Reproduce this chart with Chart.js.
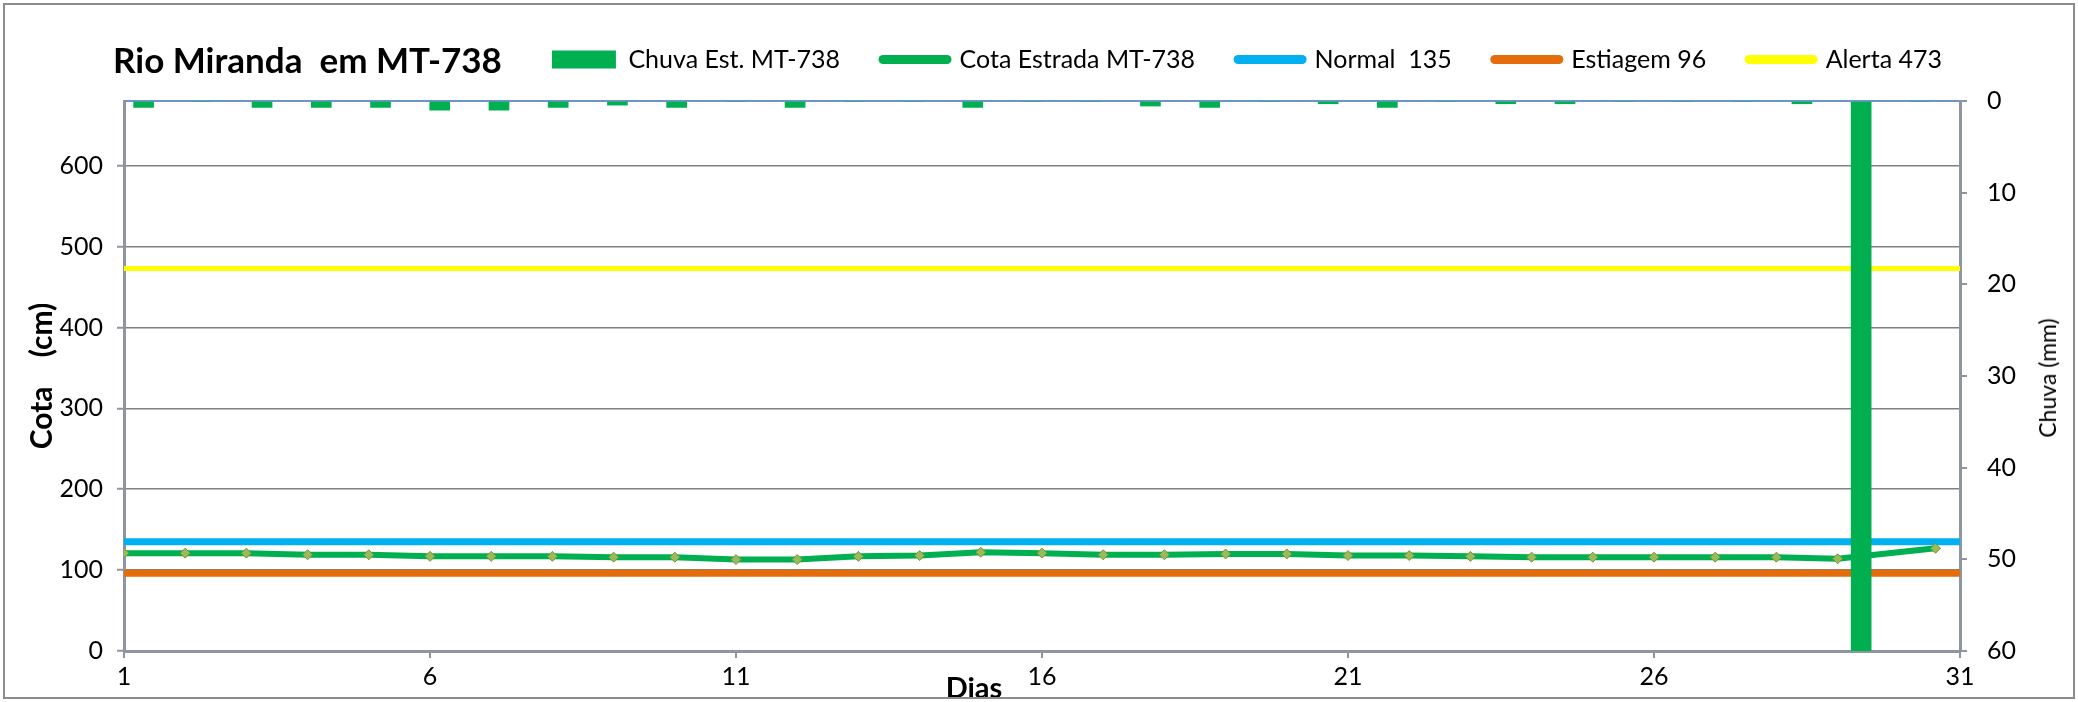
<!DOCTYPE html>
<html>
<head>
<meta charset="utf-8">
<script src="https://cdn.jsdelivr.net/npm/chart.js@4.4.1/dist/chart.umd.min.js"></script>
<style>
  html, body { margin: 0; padding: 0; background: #fff; }
  #wrap { position: relative; width: 2078px; height: 702px; overflow: hidden; }
  #frame { position: absolute; left: 3px; top: 3px; right: 3px; bottom: 3px; border: 2px solid #8c8c8c; pointer-events: none; }
  .txt { position: absolute; white-space: nowrap; color: #000; font-family: 'Liberation Sans Narrow', Lato, sans-serif; }
  #title { left: 113px; top: 38px; font-size: 35px; font-weight: bold; }
  #rtitle { left: 2047px; top: 378px; font-size: 23px; transform: translate(-50%, -50%) rotate(-90deg); }
  #xtitle { left: 974px; top: 686px; font-size: 29px; font-weight: bold; transform: translate(-50%, -50%); }
</style>
</head>
<body>
<div id="wrap">
  <canvas id="chart" width="2078" height="702"></canvas>
  <div class="txt" id="title">Rio Miranda&nbsp; em MT-738</div>
  <div class="txt" id="rtitle">Chuva (mm)</div>
  <div class="txt" id="xtitle">Dias</div>
  <div id="frame"></div>
</div>
<script>
// ---------------- Data ----------------
const days = [1, 2, 3, 4, 5, 6, 7, 8, 9, 10, 11, 12, 13, 14, 15, 16, 17, 18, 19, 20, 21, 22, 23, 24, 25, 26, 27, 28, 29, 30, 31];
const chuva = [0.7, 0, 0.7, 0.7, 0.7, 1.0, 1.0, 0.7, 0.45, 0.7, 0, 0.7, 0, 0, 0.7, 0, 0, 0.55, 0.7, 0, 0.3, 0.7, 0, 0.3, 0.3, 0, 0, 0, 0.3, 60, 0];
// reading times (day of month) and river level
const cotaDia = [1, 2, 3, 4, 5, 6, 7, 8, 9, 10, 11, 12, 13, 14, 15, 16, 17, 18, 19, 20, 21, 22, 23, 24, 25, 26, 27, 28, 29, 30.6];
const cota = [121, 121, 121, 119, 119, 117, 117, 117, 116, 116, 113, 113, 117, 118, 122, 121, 119, 119, 120, 120, 118, 118, 117, 116, 116, 116, 116, 116, 114, 127];
const normal = 135;
const estiagem = 96;
const alerta = 473;
const xTicks = [1, 6, 11, 16, 21, 26, 31];

const FONT = "'Liberation Sans Narrow', Lato, sans-serif";
const green = '#00b050';
const axisGray = '#8d96a0';

// constant level lines across the month
function level(v) {
    return [{x: days[0], y: v}, {x: days[days.length - 1], y: v}];
}

// legend: fixed height, right end pinned where the reference has it
const legendFit = {
    id: 'legendFit',
    beforeInit(chart) {
        const fit = chart.legend.fit;
        chart.legend.fit = function() {
            fit.bind(chart.legend)();
            this.height = 97;
        };
    },
    afterLayout(chart) {
        chart.legend.right = 1942 + chart.legend.options.labels.padding;
    }
};

const ctx = document.getElementById('chart');
const chart = new Chart(ctx, {
    data: {
        labels: days,
        datasets: [{
            type: 'bar',
            label: 'Chuva Est. MT-738',
            data: chuva,
            xAxisID: 'xBar',
            yAxisID: 'yR',
            backgroundColor: green,
            barThickness: 20,
            order: 0
        }, {
            type: 'line',
            label: 'Cota Estrada MT-738',
            data: cota.map((v, i) => ({x: cotaDia[i], y: v})),
            xAxisID: 'x',
            yAxisID: 'y',
            borderColor: green,
            borderWidth: 6,
            pointStyle: 'rectRot',
            pointRadius: 5,
            pointBackgroundColor: '#9bbb59',
            pointBorderColor: '#77933c',
            pointBorderWidth: 1,
            tension: 0,
            order: 1
        }, {
            type: 'line',
            label: 'Normal  135',
            data: level(normal),
            xAxisID: 'x',
            yAxisID: 'y',
            borderColor: '#00b0f0',
            borderWidth: 7,
            pointRadius: 0,
            order: 2
        }, {
            type: 'line',
            label: 'Estiagem 96',
            data: level(estiagem),
            xAxisID: 'x',
            yAxisID: 'y',
            borderColor: '#e46c0a',
            borderWidth: 7,
            pointRadius: 0,
            order: 3
        }, {
            type: 'line',
            label: 'Alerta 473',
            data: level(alerta),
            xAxisID: 'x',
            yAxisID: 'y',
            borderColor: '#ffff00',
            borderWidth: 5,
            pointRadius: 0,
            order: 4
        }]
    },
    options: {
        responsive: false,
        animation: false,
        layout: {padding: {top: 4, left: 0, right: 0, bottom: 0}},
        plugins: {
            tooltip: {enabled: false},
            legend: {
                position: 'top',
                align: 'end',
                fullSize: false,
                labels: {
                    color: '#000',
                    font: {family: FONT, size: 25},
                    padding: 43,
                    usePointStyle: true,
                    pointStyleWidth: 64,
                    boxHeight: 18,
                    sort: (a, b) => a.datasetIndex - b.datasetIndex,
                    generateLabels(chart) {
                        return chart.data.datasets.map((ds, i) => ({
                            text: ds.label,
                            datasetIndex: i,
                            fillStyle: ds.type === 'bar' ? ds.backgroundColor : ds.borderColor,
                            strokeStyle: ds.type === 'bar' ? ds.backgroundColor : ds.borderColor,
                            lineWidth: ds.type === 'bar' ? 0 : 9,
                            lineCap: 'round',
                            pointStyle: ds.type === 'bar' ? 'rect' : 'line',
                            fontColor: '#000'
                        }));
                    }
                }
            }
        },
        scales: {
            xBar: {
                type: 'category',
                position: 'top',
                offset: true,
                grid: {display: false},
                ticks: {display: false},
                border: {color: '#6f95c8', width: 2},
                afterFit: s => { s.height = 0; }
            },
            x: {
                type: 'linear',
                position: 'bottom',
                min: 1,
                max: 31,
                afterBuildTicks: s => { s.ticks = xTicks.map(v => ({value: v})); },
                ticks: {color: '#000', font: {family: FONT, size: 25}, padding: 4},
                grid: {drawOnChartArea: false, tickLength: 7, color: axisGray, lineWidth: 2},
                border: {color: axisGray, width: 3},
                afterFit: s => { s.height = 51; }
            },
            y: {
                position: 'left',
                min: 0,
                max: 680,
                ticks: {stepSize: 100, includeBounds: false, color: '#000', font: {family: FONT, size: 25}, padding: 14},
                grid: {
                    color: '#808080',
                    lineWidth: 1.5,
                    borderDash: [1.5, 2],
                    tickLength: 7,
                    tickColor: axisGray,
                    tickBorderDash: [],
                    tickWidth: 2
                },
                border: {color: axisGray, width: 3},
                title: {display: true, text: 'Cota    (cm)', color: '#000', font: {family: FONT, size: 30, weight: 'bold'}, padding: {top: 24, bottom: 0}},
                afterFit: s => { s.width = 124; }
            },
            yR: {
                position: 'right',
                min: 0,
                max: 60,
                reverse: true,
                ticks: {stepSize: 10, color: '#000', font: {family: FONT, size: 25}, padding: 20},
                grid: {drawOnChartArea: false, tickLength: 7, color: axisGray, lineWidth: 2},
                border: {color: axisGray, width: 3},
                afterFit: s => { s.width = 118; }
            }
        }
    },
    plugins: [legendFit]
});
</script>
</body>
</html>
